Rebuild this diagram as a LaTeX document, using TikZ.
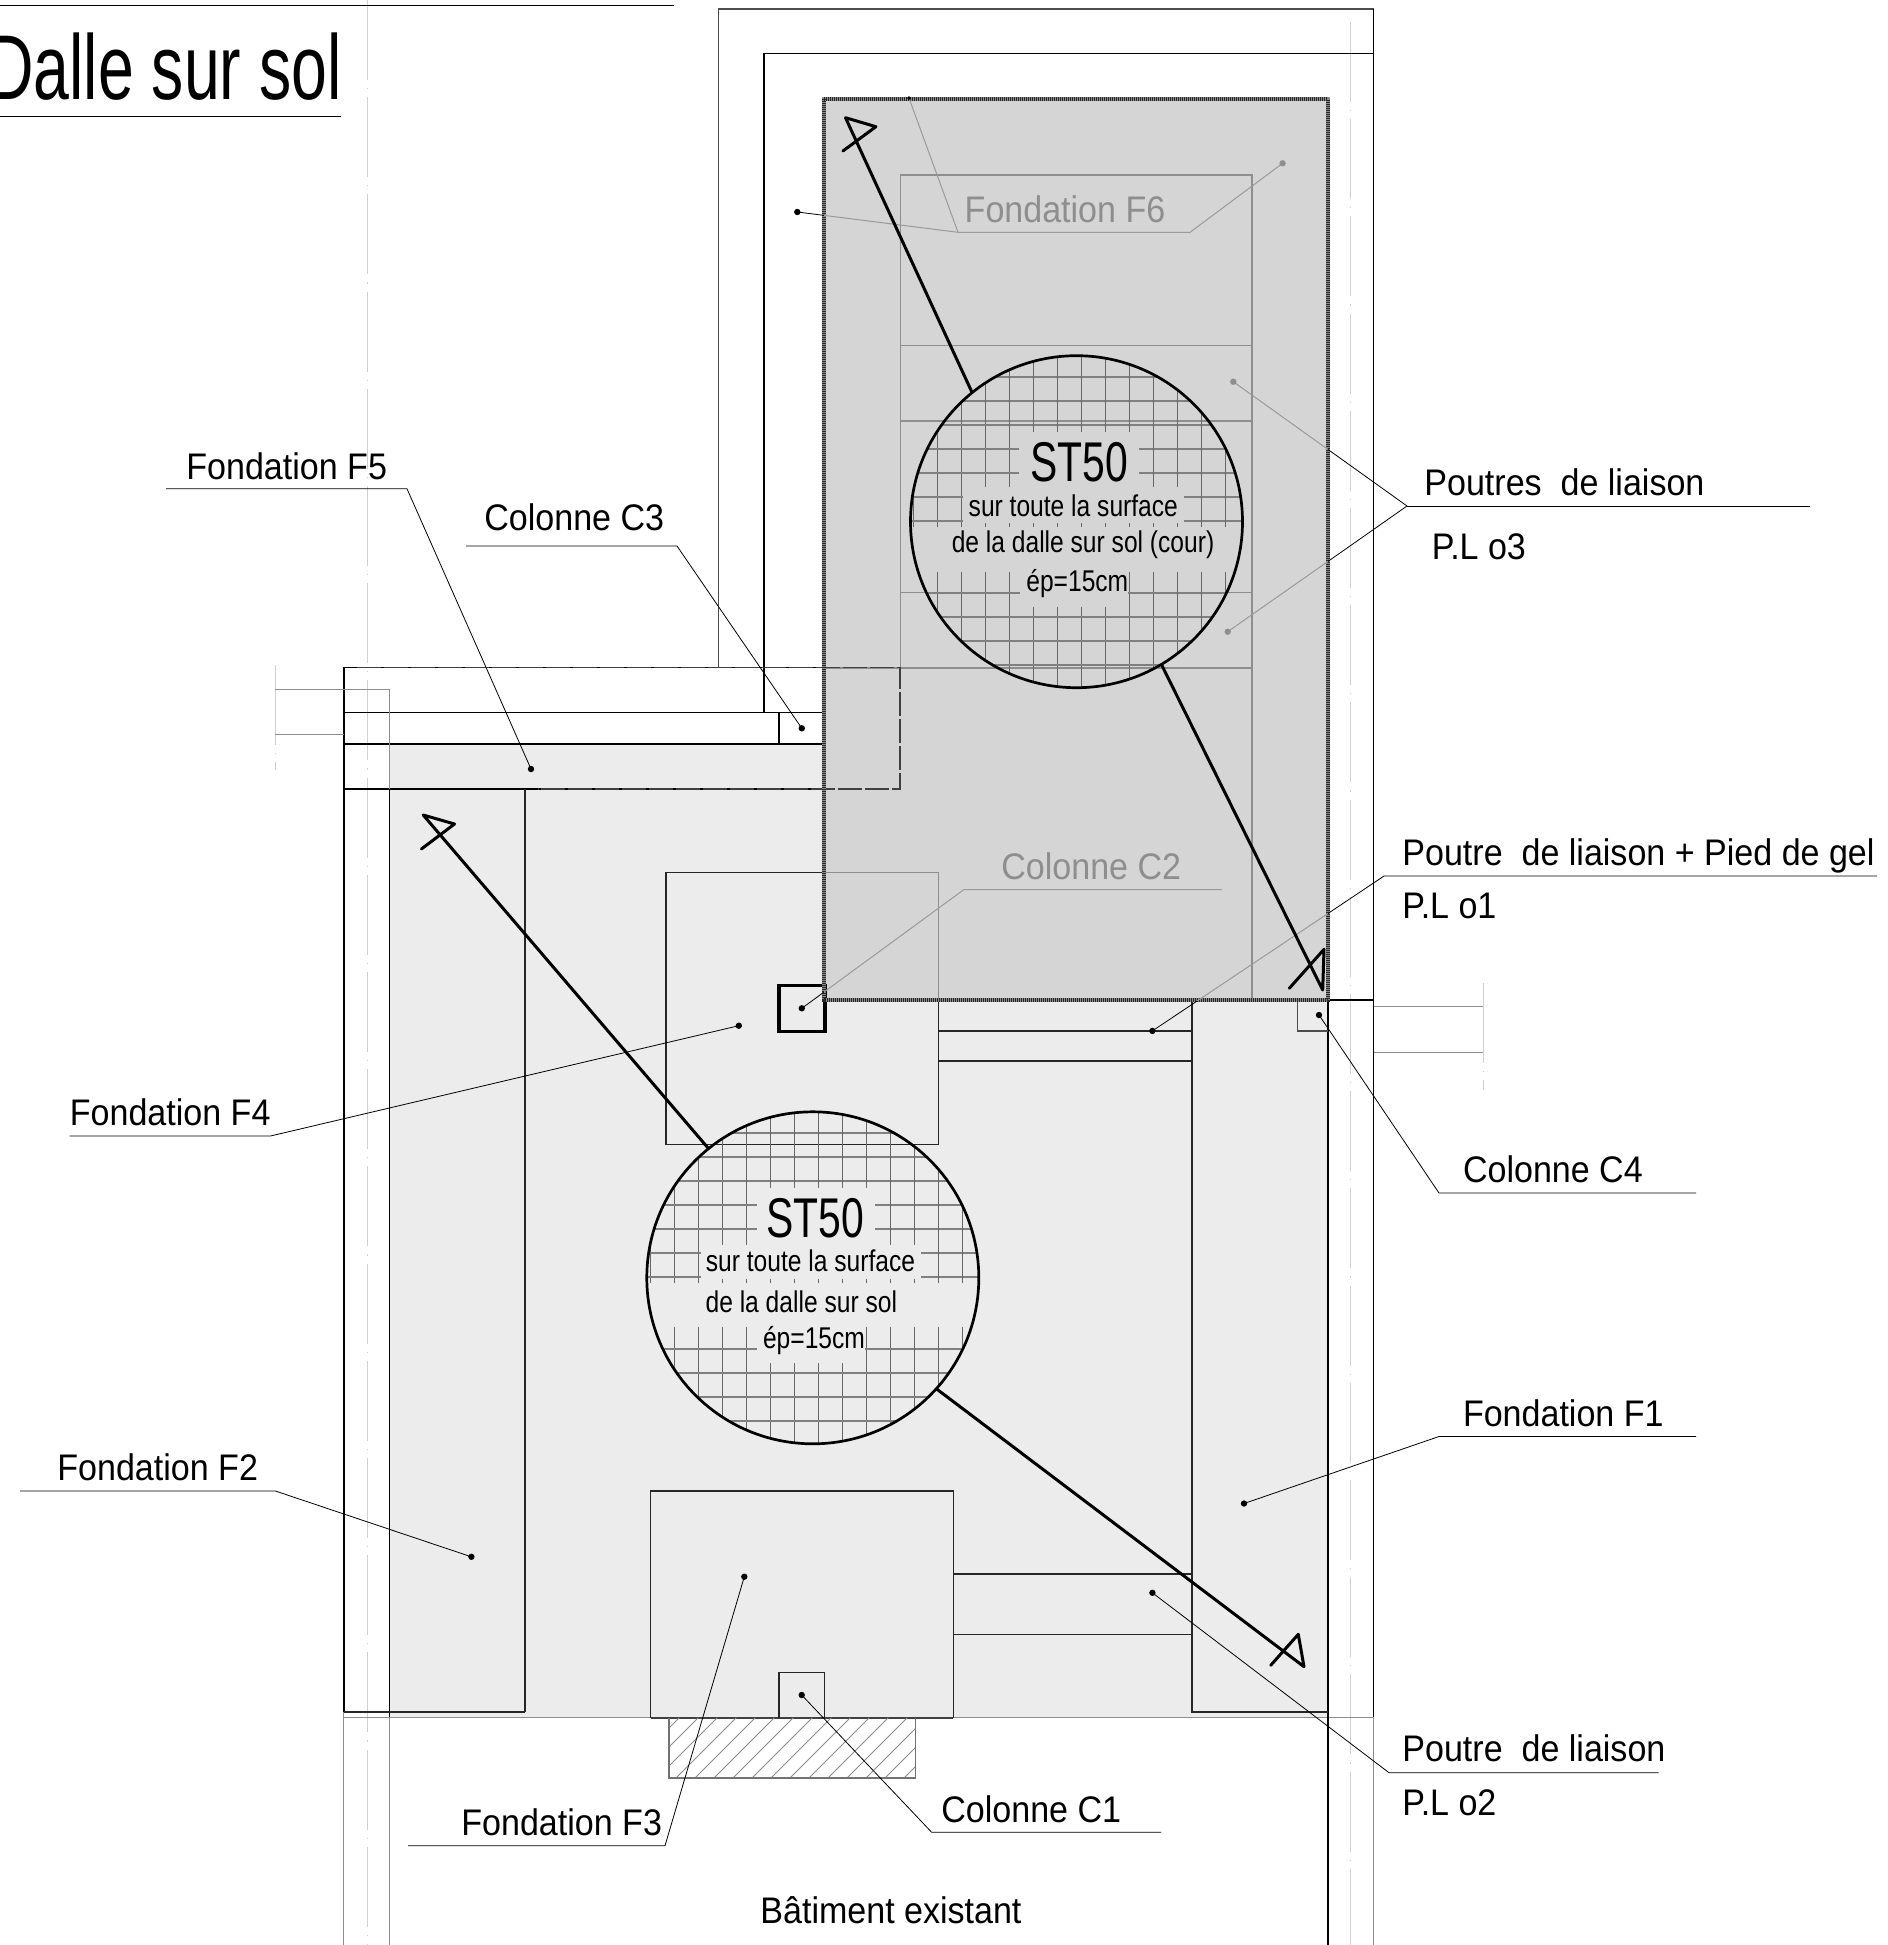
\documentclass[tikz,border=0pt]{standalone}
\usepackage{fontspec}
\setmainfont{Liberation Sans}
\newfontfamily\fLab[FakeStretch=0.92]{Liberation Sans}
\newfontfamily\fBig[FakeStretch=0.73]{Liberation Sans}
\newfontfamily\fSmall[FakeStretch=0.82]{Liberation Sans}
\newfontfamily\fTitle[FakeStretch=0.70]{Liberation Sans}
\definecolor{lightfill}{HTML}{ECECEC}
\definecolor{darkfill}{HTML}{D5D5D5}
\definecolor{ghost}{HTML}{8E8E8E}
\definecolor{gleadcol}{HTML}{9A9A9A}
\definecolor{axisgray}{HTML}{D0D0D0}
\tikzset{
  wall/.style={black,line width=0.75pt},
  thickwall/.style={black,line width=1.05pt},
  found/.style={black!85,line width=0.65pt},
  ghostline/.style={ghost,line width=0.55pt},
  softwall/.style={black!70,line width=0.7pt},
  axisline/.style={axisgray,line width=0.5pt,dash pattern=on 40pt off 4pt on 0.6pt off 4pt},
  leader/.style={black,line width=0.4pt},
  gleader/.style={gleadcol,line width=0.5pt},
  cutarrow/.style={black,line width=1.5pt,line cap=round,line join=round},
  gridv/.style={black!60,line width=0.4pt},
  gridh/.style={black!50,line width=0.55pt},
  lab/.style={inner sep=0pt,anchor=base west,font=\fLab\fontsize{18.5}{20}\selectfont},
  glab/.style={lab,text=ghost},
  big/.style={inner sep=0pt,anchor=base,font=\fBig\fontsize{28}{30}\selectfont},
  small/.style={inner sep=0pt,anchor=base,font=\fSmall\fontsize{15}{17}\selectfont},
}
\begin{document}
\begin{tikzpicture}[x=0.5pt,y=-0.5pt]
\useasboundingbox (0,0) rectangle (1888,1945);
\fill[white] (0,0) rectangle (1888,1945);
% fills
\fill[lightfill] (389.3,744) -- (824,744) -- (824,1000) -- (1328,1000) -- (1328,1717.7) -- (389.3,1717.7) -- cycle;
\fill[darkfill] (824,99.3) rectangle (1328,1000);
% axes
\draw[axisline] (367,0) -- (367,1945);
\draw[axisline] (1350.5,22) -- (1350.5,1945);
\draw[axisline] (275.4,665) -- (275.4,770);
\draw[axisline] (1483.3,983) -- (1483.3,1090);
% walls
\draw[softwall] (718.3,667.7) -- (718.3,9) -- (1373.5,9);
\draw[wall] (763.8,712.7) -- (763.8,53.7) -- (1373.5,53.7);
\draw[wall] (1373.5,9) -- (1373.5,1717);
\draw[ghostline] (1373.5,1717) -- (1373.5,1945);
\draw[wall] (343.75,1712) -- (343.75,667.7) -- (824,667.7);
\draw[ghostline] (343.75,1712) -- (343.75,1945);
\draw[wall] (343.75,712.7) -- (824,712.7);
\draw[thickwall] (343.75,744) -- (824,744);
\draw[wall] (343.75,789) -- (824,789);
\draw[ghostline] (275.4,689.7) -- (389.3,689.7) -- (389.3,789);
\draw[ghostline] (275.4,734.7) -- (343.75,734.7);
\draw[wall] (389.3,789) -- (389.3,1717);
\draw[ghostline] (389.3,1717) -- (389.3,1945);
\draw[ghostline] (343.75,1717.7) -- (1373.5,1717.7);
\draw[thickwall] (1328,1000) -- (1373.5,1000);
\draw[thickwall] (1328,1000) -- (1328,1945);
\draw[ghostline] (1373.5,1006.7) -- (1483.3,1006.7);
\draw[ghostline] (1373.5,1052.3) -- (1483.3,1052.3);
% foundations
\draw[found] (525,789) -- (525,1712);
\draw[found] (343.75,1712) -- (525,1712);
\draw[found] (824,872.3) -- (666,872.3) -- (666,1144.3) -- (938.3,1144.3) -- (938.3,1000);
\draw[found] (938.3,1031) -- (1192,1031);
\draw[found] (938.3,1061) -- (1192,1061);
\draw[found] (1192,1000) -- (1192,1712) -- (1328,1712);
\draw[found] (650.7,1717.7) -- (650.7,1491) -- (953.3,1491) -- (953.3,1717.7);
\draw[found] (953.3,1574) -- (1192,1574);
\draw[found] (953.3,1634.7) -- (1192,1634.7);
\draw[black!75,line width=0.9pt] (650.7,1717.7) -- (953.3,1717.7);
% columns
\draw[wall] (779,744) -- (779,712.7);
\draw[black,line width=1.6pt] (779,985.3) rectangle (825,1031.7);
\draw[softwall] (1297.7,1000) -- (1297.7,1031) -- (1328,1031);
\draw[found] (779,1717.7) -- (779,1672.3) -- (824.7,1672.3) -- (824.7,1717.7);
% hatched existing footing
\begin{scope}
\clip (669,1717.7) rectangle (915.3,1778);
\foreach \hx in {600,619,...,930}{\draw[black!45,line width=0.4pt] (\hx,1778) -- ++(60.3,-60.3);}
\end{scope}
\draw[black!55,line width=0.7pt] (669,1717.7) -- (669,1778) -- (915.3,1778) -- (915.3,1717.7);
% ghost lines under the court slab
\draw[ghostline] (824,872.3) -- (938.3,872.3) -- (938.3,1000);
\draw[ghostline] (900.7,668) -- (900.7,175) -- (1252,175) -- (1252,1000);
\draw[ghostline] (900.7,345.7) -- (1252,345.7);
\draw[ghostline] (900.7,421) -- (1252,421);
\draw[ghostline] (900.7,592.7) -- (1252,592.7);
\draw[ghostline] (824,668) -- (1252,668);
% dashed outline F5
\draw[black!75,line width=0.6pt,dash pattern=on 12pt off 1.5pt] (357,667.7) -- (900,667.7) -- (900,789) -- (538,789);
% slab border
\draw[black!45,line width=2pt] (824,99.3) rectangle (1328,1000);
\draw[black!85,line width=2pt,dash pattern=on 0.5pt off 0.5pt] (824,99.3) rectangle (1328,1000);
% mesh circles
\coordinate (cA) at (1076.5,521.7);
\coordinate (cB) at (812.8,1277.8);
\begin{scope}
\clip (cA) circle[radius=166];
\foreach \n in {-7,...,7}{
  \draw[gridv] (1081.7+\n*24,340) -- (1081.7+\n*24,700);
  \draw[gridh] (900,521+\n*24) -- (1260,521+\n*24);
}
\fill[darkfill] (1019,431.7) rectangle (1139,486.7);
\fill[darkfill] (963.3,486.7) rectangle (1184,522.7);
\fill[darkfill] (900,526.7) rectangle (1260,571.7);
\fill[darkfill] (1020,571.7) rectangle (1128.3,606.7);
\end{scope}
\begin{scope}
\clip (cB) circle[radius=166];
\foreach \n in {-7,...,7}{
  \draw[gridv] (818.3+\n*24,1100) -- (818.3+\n*24,1450);
  \draw[gridh] (640,1277+\n*24) -- (990,1277+\n*24);
}
\fill[lightfill] (756.7,1188.3) rectangle (875,1245);
\fill[lightfill] (700.7,1245) rectangle (920.7,1279);
\fill[lightfill] (640,1282.7) rectangle (990,1327.3);
\fill[lightfill] (756.7,1327.3) rectangle (865,1362.7);
\end{scope}
\draw[black,line width=1.35pt] (cA) circle[radius=166];
\draw[black,line width=1.35pt] (cB) circle[radius=166];
% leader anchors
\coordinate (dF5) at (531,769); \coordinate (eF5) at (407,488.8); \coordinate (sF5) at (166,488.8);
\coordinate (dC3) at (801.8,728.3); \coordinate (eC3) at (677,546); \coordinate (sC3) at (466,546);
\coordinate (dC2) at (801.8,1008.3); \coordinate (eC2) at (964,889.5); \coordinate (sC2) at (1222,889.5);
\coordinate (dF4) at (738.8,1025.7); \coordinate (eF4) at (270.4,1136); \coordinate (sF4) at (69.5,1136);
\coordinate (dF2) at (471.4,1556.8); \coordinate (eF2) at (275.4,1491); \coordinate (sF2) at (20,1491);
\coordinate (dF3) at (744.3,1576.7); \coordinate (eF3) at (665,1845.7); \coordinate (sF3) at (408,1845.7);
\coordinate (dC1) at (801.7,1695); \coordinate (eC1) at (931.7,1832.3); \coordinate (sC1) at (1161,1832.3);
\coordinate (dC4) at (1319,1015); \coordinate (eC4) at (1439,1193); \coordinate (sC4) at (1696,1193);
\coordinate (dF1) at (1244,1503.5); \coordinate (eF1) at (1439,1436.5); \coordinate (sF1) at (1696,1436.5);
\coordinate (dP2) at (1152.4,1592.8); \coordinate (eP2) at (1389,1772.7); \coordinate (sP2) at (1658.6,1772.7);
\coordinate (dP1) at (1152.4,1030.9); \coordinate (eP1) at (1384,876); \coordinate (sP1) at (1877,876);
\coordinate (dP3a) at (1233.3,381.7); \coordinate (dP3b) at (1227.7,631.7); \coordinate (eP3) at (1407,506); \coordinate (sP3) at (1810,506);
\coordinate (dF6a) at (797.3,212); \coordinate (dF6b) at (909,98); \coordinate (dF6c) at (1282.6,163.3); \coordinate (eF6a) at (958,232.3); \coordinate (eF6b) at (1190,232.3);
% leaders in black outside the court slab
\begin{scope}
\clip (0,0) rectangle (824,1945) (1328,0) rectangle (1888,1945) (824,0) rectangle (1328,99.3) (824,1000) rectangle (1328,1945);
\draw[leader] (dF5) -- (eF5) -- (sF5);
\draw[leader] (dC3) -- (eC3) -- (sC3);
\draw[leader] (dF4) -- (eF4) -- (sF4);
\draw[leader] (dF2) -- (eF2) -- (sF2);
\draw[leader] (dF3) -- (eF3) -- (sF3);
\draw[leader] (dC1) -- (eC1) -- (sC1);
\draw[leader] (dC4) -- (eC4) -- (sC4);
\draw[leader] (dF1) -- (eF1) -- (sF1);
\draw[leader] (dP2) -- (eP2) -- (sP2);
\draw[leader] (dP1) -- (eP1) -- (sP1);
\draw[leader] (dP3a) -- (eP3) -- (dP3b);
\draw[leader] (eP3) -- (sP3);
\draw[leader] (dC2) -- (eC2);
\draw[leader] (dF6a) -- (eF6a);
\end{scope}
% leaders in grey on the court slab
\begin{scope}
\clip (824,99.3) rectangle (1328,1000);
\draw[gleader] (dC2) -- (eC2) -- (sC2);
\draw[gleader] (dP1) -- (eP1);
\draw[gleader] (dP3a) -- (eP3) -- (dP3b);
\draw[gleader] (dF6a) -- (eF6a) -- (eF6b) -- (dF6c);
\draw[gleader] (dF6b) -- (eF6a);
\end{scope}
% cut arrows
\coordinate (a1s) at (971.7,391.7); \coordinate (a1t) at (845.5,117.7); \coordinate (a1b) at (875.9,126.7); \coordinate (a1c) at (842.9,151);
\coordinate (a2s) at (1161.7,665); \coordinate (a2t) at (1322.7,990); \coordinate (a2b) at (1324,949.3); \coordinate (a2c) at (1289.3,988.3);
\coordinate (a3s) at (708.3,1148.3); \coordinate (a3t) at (423.2,815); \coordinate (a3b) at (454.5,824); \coordinate (a3c) at (421.4,849);
\coordinate (a4s) at (936.7,1389); \coordinate (a4t) at (1304,1666.7); \coordinate (a4b) at (1298.3,1634.3); \coordinate (a4c) at (1270.7,1665.3);
\draw[cutarrow] (a1s) -- (a1t) -- (a1b) -- (a1c);
\draw[cutarrow] (a2s) -- (a2t) -- (a2b) -- (a2c);
\draw[cutarrow] (a3s) -- (a3t) -- (a3b) -- (a3c);
\draw[cutarrow] (a4s) -- (a4t) -- (a4b) -- (a4c);
% circle texts
\node[big] (st1) at (1079,481.7) {ST50};
\node[small] (st1a) at (1073.3,516) {sur toute la surface};
\node[small] (st1b) at (1083,552.7) {de la dalle sur sol (cour)};
\node[small] (st1c) at (1077.3,591.7) {ép=15cm};
\node[big] (st2) at (815.3,1237.7) {ST50};
\node[small] (st2a) at (810.5,1271.7) {sur toute la surface};
\node[small] (st2b) at (801.3,1312.7) {de la dalle sur sol};
\node[small] (st2c) at (814,1348.3) {ép=15cm};
% dots
\foreach \d in {dF5,dC3,dC2,dF4,dF2,dF3,dC1,dC4,dF1,dP2,dP1,dF6a}{\fill[black] (\d) circle[radius=3.2];}
\fill[black] (dF6b) circle[radius=1.8];
\foreach \d in {dP3a,dP3b,dF6c}{\fill[ghost] (\d) circle[radius=3.2];}
% labels
\node[lab] (lF5) at (186,479) {Fondation F5};
\node[lab] (lC3) at (484,530) {Colonne C3};
\node[glab] (lF6) at (964.3,222.7) {Fondation F6};
\node[glab] (lC2) at (1001,879.5) {Colonne C2};
\node[lab] (lP3) at (1424,495) {Poutres\ \ de liaison};
\node[lab] (lP3b) at (1431.5,559.5) {P.L o3};
\node[lab] (lP1) at (1402,865) {Poutre\ \ de liaison + Pied de gel};
\node[lab] (lP1b) at (1402,918) {P.L o1};
\node[lab] (lF4) at (69.5,1125) {Fondation F4};
\node[lab] (lC4) at (1462.6,1182) {Colonne C4};
\node[lab] (lF1) at (1462.6,1426.6) {Fondation F1};
\node[lab] (lF2) at (57,1480) {Fondation F2};
\node[lab] (lP2) at (1402,1761.5) {Poutre\ \ de liaison};
\node[lab] (lP2b) at (1402,1815) {P.L o2};
\node[lab] (lF3) at (461,1835) {Fondation F3};
\node[lab] (lC1) at (941,1822) {Colonne C1};
\node[lab] (lB) at (760,1923) {Bâtiment existant};
% title
\coordinate (tl) at (0,5); \coordinate (tr) at (673.6,5);
\coordinate (ul) at (0,116.6); \coordinate (ur) at (341,116.6);
\draw[leader] (tl) -- (tr);
\draw[leader] (ul) -- (ur);
\node[inner sep=0pt,anchor=base east,font=\fTitle\fontsize{46}{50}\selectfont] (title) at (342,99) {Dalle sur sol};
\end{tikzpicture}
\end{document}
